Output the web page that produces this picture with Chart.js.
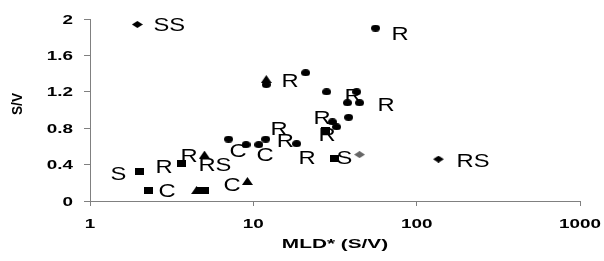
<!DOCTYPE html>
<html>
<head>
<meta charset="utf-8">
<script src="https://cdn.jsdelivr.net/npm/chart.js@4.4.1/dist/chart.umd.min.js"></script>
<style>
  html, body { margin: 0; padding: 0; background: #fff; }
</style>
</head>
<body>
<canvas id="chart" width="604" height="261"></canvas>
<script>
// data (x is MLD*, y is S/V)
const circleX = [56, 12.0, 20.9, 28.1, 42.9, 37.7, 44.7, 38.3, 30.5, 32.3, 7.05, 9.02, 10.8, 11.9, 18.4];
const circleY = [1.90, 1.28, 1.41, 1.20, 1.20, 1.08, 1.08, 0.92, 0.87, 0.815, 0.68, 0.62, 0.62, 0.68, 0.63];
const squareX = [27.7, 31.4, 3.63, 2.0, 2.28, 4.75, 5.02];
const squareY = [0.77, 0.47, 0.41, 0.325, 0.11, 0.11, 0.11];
const triangleX = [12.0, 5.02, 9.2, 4.49];
const triangleY = [1.34, 0.51, 0.22, 0.12];
const diamondX = [1.95, 136];
const diamondY = [1.94, 0.46];
const greyDiamondX = [44.7];
const greyDiamondY = [0.51];

// text labels beside the points (left edge of the text, in data units)
const labelText = ["SS", "R", "R", "R", "R", "R", "R", "R", "R", "R", "S", "C", "C", "RS", "C", "R", "R", "S", "C", "RS"];
const labelX = [2.48, 71.2, 15.1, 36.7, 58.4, 23.7, 25.4, 12.9, 14.1, 19.2, 32.8, 7.25, 10.6, 4.68, 6.66, 3.63, 2.55, 1.354, 2.66, 178];
const labelY = [1.94, 1.84, 1.33, 1.16, 1.06, 0.92, 0.73, 0.80, 0.67, 0.48, 0.48, 0.56, 0.51, 0.40, 0.18, 0.50, 0.38, 0.31, 0.12, 0.45];

const xTicks = [1, 10, 100, 1000];
const xTickLabels = ["1", "10", "100", "1000"];
const yTicks = [0, 0.4, 0.8, 1.2, 1.6, 2];
const yTickLabels = ["0", "0.4", "0.8", "1.2", "1.6", "2"];
const xTitle = "MLD* (S/V)";
const yTitle = "S/V";

const AXIS_COLOR = "#808080";
const FONT = "'Liberation Sans', Arial, sans-serif";

// the reference markers are a bit wider than tall, so draw them as small images
function makeMarker(shape, w, h, color) {
  const c = document.createElement("canvas");
  c.width = w; c.height = h;
  const g = c.getContext("2d");
  g.fillStyle = color;
  g.beginPath();
  if (shape === "circle") {
    g.ellipse(w / 2, h / 2, w / 2, h / 2, 0, 0, Math.PI * 2);
  } else if (shape === "square") {
    g.rect(0, 0, w, h);
  } else if (shape === "triangle") {
    g.moveTo(w / 2, 0); g.lineTo(w, h); g.lineTo(0, h);
  } else {
    g.moveTo(w / 2, 0); g.lineTo(w, h / 2); g.lineTo(w / 2, h); g.lineTo(0, h / 2);
  }
  g.closePath();
  g.fill();
  return c;
}

const zip = (xs, ys) => xs.map((x, i) => ({ x, y: ys[i] }));

function stretchedText(ctx, text, x, y, align, sx) {
  ctx.save();
  ctx.translate(x, y);
  ctx.scale(sx, 1);
  ctx.textAlign = align;
  ctx.fillText(text, 0, 0);
  ctx.restore();
}

const textPlugin = {
  id: "texts",
  afterDraw(chart) {
    const { ctx, scales: { x, y }, chartArea } = chart;
    ctx.save();
    ctx.fillStyle = "#000";
    ctx.textBaseline = "alphabetic";

    // tick labels
    ctx.font = `bold 13px ${FONT}`;
    yTicks.forEach((v, i) => {
      stretchedText(ctx, yTickLabels[i], 73, y.getPixelForValue(v) + 4.6, "right", 1.45);
    });
    xTicks.forEach((v, i) => {
      stretchedText(ctx, xTickLabels[i], x.getPixelForValue(v), 228, "center", 1.45);
    });

    // axis titles
    stretchedText(ctx, xTitle, (chartArea.left + chartArea.right) / 2, 248, "center", 1.6);
    ctx.save();
    ctx.font = `bold 13px ${FONT}`;
    ctx.translate(22, 104);
    ctx.rotate(-Math.PI / 2);
    ctx.scale(1.05, 1.15);
    ctx.textAlign = "center";
    ctx.fillText(yTitle, 0, 0);
    ctx.restore();

    // point labels
    ctx.font = `19px ${FONT}`;
    labelText.forEach((t, i) => {
      stretchedText(ctx, t, x.getPixelForValue(labelX[i]) - 1, y.getPixelForValue(labelY[i]) + 6.8, "left", 1.25);
    });
    ctx.restore();
  },
};

new Chart(document.getElementById("chart").getContext("2d"), {
  type: "scatter",
  data: {
    datasets: [
      { data: zip(circleX, circleY), pointStyle: makeMarker("circle", 9, 7, "#000") },
      { data: zip(squareX, squareY), pointStyle: makeMarker("square", 9, 7, "#000") },
      { data: zip(triangleX, triangleY), pointStyle: makeMarker("triangle", 11, 8, "#000") },
      { data: zip(diamondX, diamondY), pointStyle: makeMarker("diamond", 11, 7, "#000") },
      { data: zip(greyDiamondX, greyDiamondY), pointStyle: makeMarker("diamond", 11, 7, "#666") },
    ],
  },
  options: {
    responsive: false,
    animation: false,
    devicePixelRatio: 1,
    layout: { autoPadding: false, padding: { left: 0, top: 19, right: 24, bottom: 0 } },
    elements: { point: { radius: 4, hoverRadius: 4 } },
    plugins: { legend: { display: false }, tooltip: { enabled: false } },
    scales: {
      x: {
        type: "logarithmic",
        min: 1, max: 1000,
        afterBuildTicks: (s) => { s.ticks = xTicks.map((v) => ({ value: v })); },
        afterFit: (s) => { s.height = 60; },
        ticks: { display: false },
        grid: { drawOnChartArea: false, tickLength: 5, color: AXIS_COLOR },
        border: { color: AXIS_COLOR },
      },
      y: {
        min: 0, max: 2,
        afterBuildTicks: (s) => { s.ticks = yTicks.map((v) => ({ value: v })); },
        afterFit: (s) => { s.width = 90; },
        ticks: { display: false },
        grid: { drawOnChartArea: false, tickLength: 6, color: AXIS_COLOR },
        border: { color: AXIS_COLOR },
      },
    },
  },
  plugins: [textPlugin],
});
</script>
</body>
</html>
